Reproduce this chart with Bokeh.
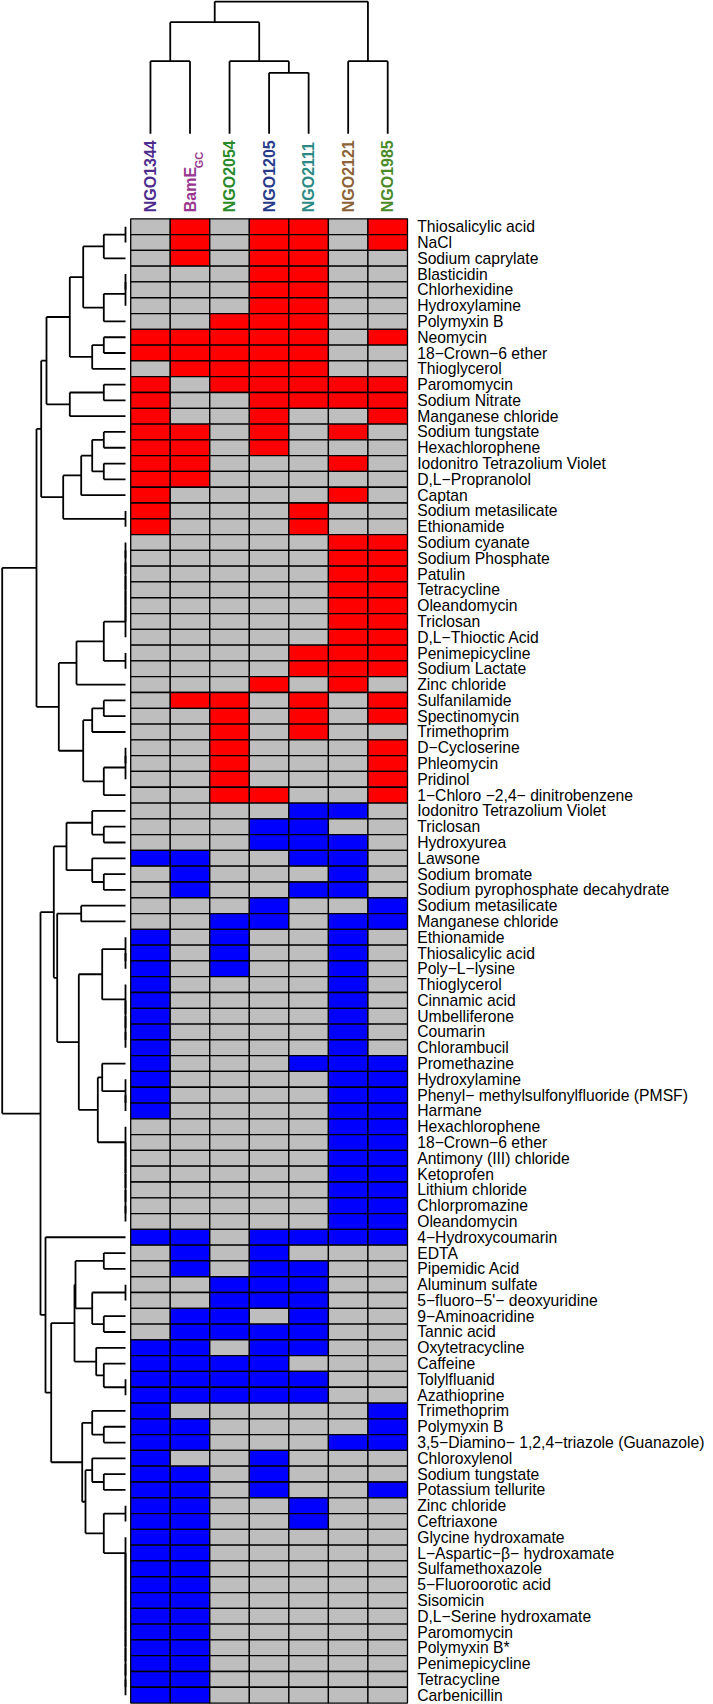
import math
from bokeh.plotting import figure
from bokeh.models import Range1d
from bokeh.embed import file_html
from bokeh.resources import INLINE
from bokeh.core.properties import value

# ---------------- data ----------------
col_names = ["NGO1344", "BamE", "NGO2054", "NGO1205", "NGO2111", "NGO2121", "NGO1985"]
col_subscripts = ["", "GC", "", "", "", "", ""]
col_colors = ["#4E2C8E", "#97358F", "#2A8A2A", "#283B8A", "#2C8A84", "#8C6237", "#4B8A28"]

row_names = [
    "Thiosalicylic acid", "NaCl", "Sodium caprylate", "Blasticidin", "Chlorhexidine",
    "Hydroxylamine", "Polymyxin B", "Neomycin", "18\u2212Crown\u22126 ether", "Thioglycerol",
    "Paromomycin", "Sodium Nitrate", "Manganese chloride", "Sodium tungstate", "Hexachlorophene",
    "Iodonitro Tetrazolium Violet", "D,L\u2212Propranolol", "Captan", "Sodium metasilicate", "Ethionamide",
    "Sodium cyanate", "Sodium Phosphate", "Patulin", "Tetracycline", "Oleandomycin",
    "Triclosan", "D,L\u2212Thioctic Acid", "Penimepicycline", "Sodium Lactate", "Zinc chloride",
    "Sulfanilamide", "Spectinomycin", "Trimethoprim", "D\u2212Cycloserine", "Phleomycin",
    "Pridinol", "1\u2212Chloro \u22122,4\u2212 dinitrobenzene",
    "Iodonitro Tetrazolium Violet", "Triclosan", "Hydroxyurea", "Lawsone", "Sodium bromate",
    "Sodium pyrophosphate decahydrate", "Sodium metasilicate", "Manganese chloride", "Ethionamide",
    "Thiosalicylic acid", "Poly\u2212L\u2212lysine", "Thioglycerol", "Cinnamic acid", "Umbelliferone",
    "Coumarin", "Chlorambucil", "Promethazine", "Hydroxylamine",
    "Phenyl\u2212 methylsulfonylfluoride (PMSF)", "Harmane", "Hexachlorophene", "18\u2212Crown\u22126 ether",
    "Antimony (III) chloride", "Ketoprofen", "Lithium chloride", "Chlorpromazine", "Oleandomycin",
    "4\u2212Hydroxycoumarin", "EDTA", "Pipemidic Acid", "Aluminum sulfate",
    "5\u2212fluoro\u22125'\u2212 deoxyuridine", "9\u2212Aminoacridine", "Tannic acid", "Oxytetracycline",
    "Caffeine", "Tolylfluanid", "Azathioprine", "Trimethoprim", "Polymyxin B",
    "3,5\u2212Diamino\u2212 1,2,4\u2212triazole (Guanazole)", "Chloroxylenol", "Sodium tungstate",
    "Potassium tellurite", "Zinc chloride", "Ceftriaxone", "Glycine hydroxamate",
    "L\u2212Aspartic\u2212\u03b2\u2212 hydroxamate", "Sulfamethoxazole", "5\u2212Fluoroorotic acid",
    "Sisomicin", "D,L\u2212Serine hydroxamate", "Paromomycin", "Polymyxin B*", "Penimepicycline",
    "Tetracycline", "Carbenicillin",
]

# R = red, G = grey, B = blue ; one string per row, one letter per column
cell_codes = [
    "GRGRRGR", "GRGRRGR", "GRGRRGG", "GGGRRGG", "GGGRRGG", "GGGRRGG", "GGRRRGG",
    "RRRRRGR", "RRRRRGG", "GRRRRGG", "RGRRRRR", "RGGRRRR", "RGGRGGR", "RRGRGRG",
    "RRGRGGG", "RRGGGRG", "RRGGGGG", "RGGGGRG", "RGGGRGG", "RGGGRGG",
    "GGGGGRR", "GGGGGRR", "GGGGGRR", "GGGGGRR", "GGGGGRR", "GGGGGRR", "GGGGGRR",
    "GGGGRRR", "GGGGRRR", "GGGRGRG", "GRRGRGR", "GGRGRGR", "GGRGRGG",
    "GGRGGGR", "GGRGGGR", "GGRGGGR", "GGRRGGR",
    "GGGGBBG", "GGGBBGG", "GGGBBBG", "BBGGBBG", "GBGGGBG", "GBGGBBG", "GGGBGGB",
    "GGBBGBB", "BGBGGBG", "BGBGGBG", "BGBGGBG", "BGGGGBG", "BGGGGBG", "BGGGGBG",
    "BGGGGBG", "BGGGGBG", "BGGGBBB", "BGGGGBB", "BGGGGBB", "BGGGGBB",
    "GGGGGBB", "GGGGGBB", "GGGGGBB", "GGGGGBB", "GGGGGBB", "GGGGGBB", "GGGGGBB",
    "BBGBBBB", "GBGBGGG", "GBGBBGG", "GGBBBGG", "GGBBBGG", "GBBGBGG", "GBBBBGG",
    "BBGBBGG", "BBBBGGG", "BBBBBGG", "BBBBBGG", "BGGGGGB", "BBGGGGB", "BBGGGBB",
    "BGGBGGG", "BBGBGGG", "BBGBGGB", "BBGGBGG", "BBGGBGG",
    "BBGGGGG", "BBGGGGG", "BBGGGGG", "BBGGGGG", "BBGGGGG", "BBGGGGG",
    "BBGGGGG", "BBGGGGG", "BBGGGGG", "BBGGGGG", "BBGGGGG",
]
code_colors = {"R": "#FF0000", "G": "#BEBEBE", "B": "#0000FF"}


def left_chain(a, b):
    node = a
    for i in range(a + 1, b + 1):
        node = [node, i, 0]
    return node


def right_chain(a, b):
    node = b
    for i in range(b - 1, a - 1, -1):
        node = [i, node, 0]
    return node


# Row dendrogram: [left, right, height]; leaves are 1-based row numbers
red_upper = [[[[[1, 2, 0], 3, 21.7], [left_chain(4, 6), 7, 21.7], 42.3],
              [[8, 9, 21.7], 10, 33.3], 55.7],
             [[11, 12, 21.7], 13, 55.7], 79]
red_lower = [[[[14, 15, 21.7], [16, 17, 21.7], 33.3], 18, 44.3], [19, 20, 0], 62.3]
red_s = [red_upper, red_lower, 84.3]
red_y = [[[left_chain(21, 27), [28, 29, 0], 21.7], 30, 49],
         [[[31, 32, 21.7], 33, 33.3], [left_chain(34, 36), 37, 21.7], 42.3], 66.7]
red_tree = [red_s, red_y, 89]

blue_b3 = [[38, [39, 40, 21.7], 33.3], [41, [42, 43, 21.7], 33.3], 59]
blue_n6 = [[right_chain(46, 48), right_chain(49, 53), 23.3],
           [[54, right_chain(55, 57), 23.3], right_chain(58, 64), 27.7], 46.7]
blue_n8 = [blue_b3, [[44, 45, 44.3], blue_n6, 68.3], 71.7]
blue_a = [[66, 67, 21.7], [[68, 69, 0], [70, 71, 21.7], 33.3], 50]
blue_nb = [blue_a, [72, [73, [74, 75, 0], 21.7], 29.3], 51]
blue_c = [[79, [80, 81, 21.7], 33.3], [[82, 83, 0], right_chain(84, 94), 21.7], 40]
blue_d = [[76, [77, 78, 21.7], 33.3], blue_c, 43.3]
blue_tree = [blue_n8, [65, [blue_nb, blue_d, 74.3], 80], 85]
row_tree = [red_tree, blue_tree, 123.3]

# Column dendrogram (leaves are 1-based column numbers)
col_tree = [[[1, 2, 72.6], [3, [4, 5, 61.0], 72.6], 111.6], [6, 7, 72.6], 132.3]

# ---------------- layout constants ----------------
W, H = 713, 1704
HEAT_LEFT, CELL_W = 130.2, 39.54
HEAT_TOP, CELL_H = 218.3, 15.79
ROW_LEAF_X = 125.0
COL_LEAF_Y = 133.3
n_rows, n_cols = len(row_names), len(col_names)


def dendro_segments(node, segs):
    if isinstance(node, int):
        return float(node), 0.0
    left, right, h = node
    pl, hl = dendro_segments(left, segs)
    pr, hr = dendro_segments(right, segs)
    segs.append((pl, hl, pl, h))
    segs.append((pr, hr, pr, h))
    segs.append((pl, h, pr, h))
    return (pl + pr) / 2.0, h


p = figure(width=W, height=H, x_range=Range1d(0, W), y_range=Range1d(H, 0),
           output_backend="svg", toolbar_location=None, min_border=0,
           x_axis_type=None, y_axis_type=None)
p.grid.visible = False
p.outline_line_color = None
p.background_fill_color = "white"
p.border_fill_color = "white"

p.extra_x_ranges = {
    "hx": Range1d(start=-HEAT_LEFT / CELL_W, end=(W - HEAT_LEFT) / CELL_W),
    "rdx": Range1d(start=ROW_LEAF_X, end=ROW_LEAF_X - W),
}
p.extra_y_ranges = {
    "hy": Range1d(start=(H - HEAT_TOP) / CELL_H, end=-HEAT_TOP / CELL_H),
    "cdy": Range1d(start=COL_LEAF_Y - H, end=COL_LEAF_Y),
}

# heatmap cells
xs, ys, fills = [], [], []
for r, codes in enumerate(cell_codes):
    for c, code in enumerate(codes):
        xs.append(c + 0.5)
        ys.append(r + 0.5)
        fills.append(code_colors[code])
p.rect(x=xs, y=ys, width=1, height=1, fill_color=fills, line_color="black",
       line_width=1.3, x_range_name="hx", y_range_name="hy")

# row dendrogram
segs = []
dendro_segments(row_tree, segs)
p.segment(x0=[s[1] for s in segs], y0=[s[0] - 0.5 for s in segs],
          x1=[s[3] for s in segs], y1=[s[2] - 0.5 for s in segs],
          line_color="black", line_width=1.8, x_range_name="rdx", y_range_name="hy")

# column dendrogram
csegs = []
dendro_segments(col_tree, csegs)
p.segment(x0=[s[0] - 0.5 for s in csegs], y0=[s[1] for s in csegs],
          x1=[s[2] - 0.5 for s in csegs], y1=[s[3] for s in csegs],
          line_color="black", line_width=1.8, x_range_name="hx", y_range_name="cdy")

# row labels
p.text(x=[n_cols] * n_rows, y=[r + 0.5 for r in range(n_rows)], text=row_names,
       x_offset=9.7, text_align="left", text_baseline="middle",
       text_font=value("Liberation Sans"), text_font_size="15.7px", text_color="black",
       x_range_name="hx", y_range_name="hy")

# column labels (rotated)
p.text(x=[c + 0.5 for c in range(n_cols)], y=[0] * n_cols, text=col_names,
       angle=math.pi / 2, y_offset=-6.5, text_align="left", text_baseline="middle",
       text_font=value("Liberation Sans"), text_font_size="16px", text_font_style="bold",
       text_color=col_colors, x_range_name="hx", y_range_name="hy")
sub_idx = [i for i, s in enumerate(col_subscripts) if s]
p.text(x=[i + 0.5 for i in sub_idx], y=[0] * len(sub_idx), text=[col_subscripts[i] for i in sub_idx],
       angle=math.pi / 2, y_offset=-50.5, x_offset=9.0, text_align="left", text_baseline="middle",
       text_font=value("Liberation Sans"), text_font_size="11px", text_font_style="bold",
       text_color=[col_colors[i] for i in sub_idx],
       x_range_name="hx", y_range_name="hy")

open("out.html", "w").write(file_html(p, INLINE))
